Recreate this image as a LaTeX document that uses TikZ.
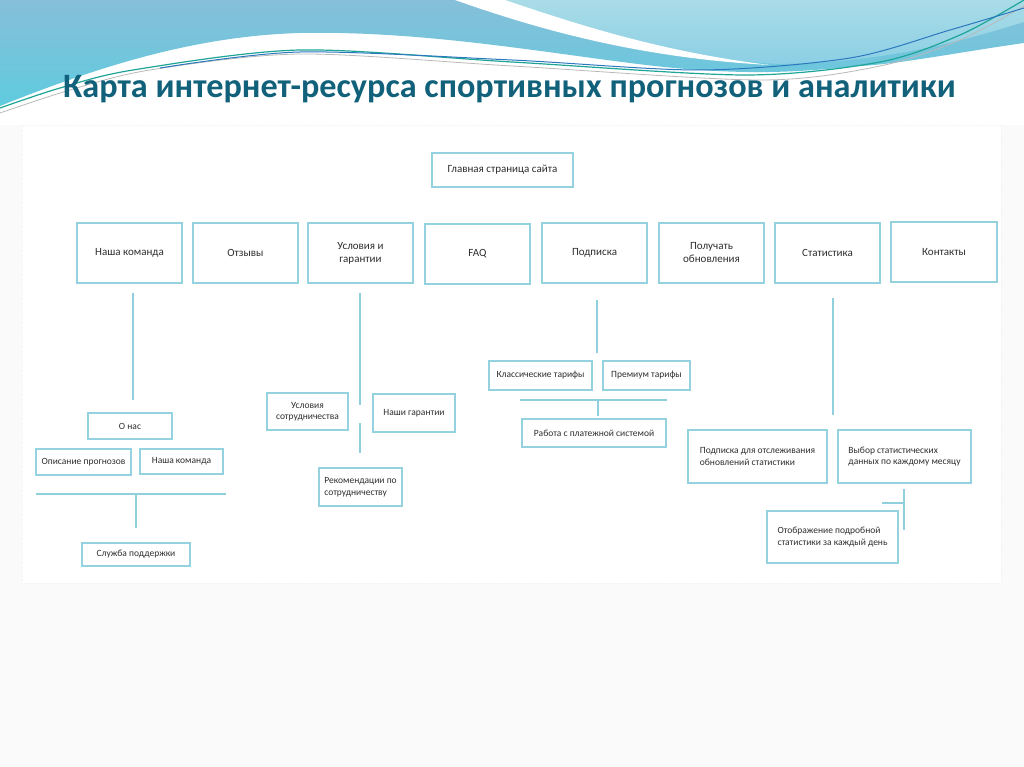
\documentclass[tikz,border=0pt]{standalone}
\usepackage{fontspec}
\setmainfont{Carlito}
\definecolor{boxc}{HTML}{93D2DE}
\definecolor{linec}{HTML}{8FD0DC}
\definecolor{titlec}{HTML}{12617B}
\definecolor{txt}{HTML}{2E2E2E}
\definecolor{pagebg}{HTML}{FAFAFA}
\definecolor{waveA}{HTML}{86BFD9}
\definecolor{waveB}{HTML}{5FCBDF}
\definecolor{waveL}{HTML}{A9DCE7}
\definecolor{waveL2}{HTML}{8CCFE5}
\definecolor{tealL}{HTML}{1FA597}
\definecolor{blueL}{HTML}{2C78BE}
\begin{document}
\begin{tikzpicture}[x=1pt,y=-1pt,
  box/.style={draw=boxc, line width=2.6pt, fill=white, inner sep=0pt, align=center, text=txt, font=\fontsize{11}{13}\selectfont},
  sbox/.style={box, font=\fontsize{9.5}{11.5}\selectfont},
  lbox/.style={sbox, align=left},
  conn/.style={draw=linec, line width=2.4pt}]
\useasboundingbox (0,0) rectangle (1024,767);
% page background
\fill[pagebg] (0,0) rectangle (1024,767);
\fill[white] (0,0) rectangle (1024,125);
\fill[white] (22,125) rectangle (1001,583);
\draw[gray!12, dotted] (22,125) rectangle (1001,583);
% waves
\shade[top color=waveA, bottom color=waveB] (0,0) -- (1024,0) -- (1024,43)
  .. controls (960,52) and (900,64) .. (860,66)
  .. controls (800,72) and (760,74) .. (700,70)
  .. controls (600,64) and (450,30) .. (300,33)
  .. controls (190,36) and (90,70) .. (0,106) -- cycle;
\shade[top color=waveL, bottom color=waveL2] (503,0) -- (1024,0) -- (1024,22)
  .. controls (950,45) and (880,62) .. (780,64)
  .. controls (680,60) and (570,25) .. (503,0) -- cycle;
\fill[white] (455,0) .. controls (540,30) and (640,58) .. (770,65)
  .. controls (660,52) and (570,22) .. (505,0) -- cycle;
\draw[gray!55, line width=0.8pt] plot[smooth] coordinates {(0,113) (70,90) (150,70) (300,54) (512,66) (760,80) (880,66) (960,40) (1024,6)};
\draw[tealL, line width=1.2pt] plot[smooth] coordinates {(0,108) (60,88) (133,70) (300,50) (512,62) (745,75) (880,62) (960,35) (1024,0)};
\draw[blueL, line width=1pt] plot[smooth] coordinates {(160,68) (300,52) (512,60) (700,70) (850,58) (950,30) (1024,8)};
% title
\node[anchor=base west, inner sep=0pt, text=titlec, font=\fontsize{34.2}{39}\selectfont\bfseries] (title) at (63,98) {Карта интернет-ресурса спортивных прогнозов и аналитики};
% main
\node[box, minimum width=141pt, minimum height=34pt] (main) at (502.5,170) {Главная страница сайта};
% row 2
\node[box, minimum width=105pt, minimum height=60pt] (nk) at (129.5,253) {Наша команда};
\node[box, minimum width=105pt, minimum height=60pt] (otz) at (245.5,253) {Отзывы};
\node[box, minimum width=105pt, minimum height=60pt] (usl) at (360.5,253) {Условия и\\гарантии};
\node[box, minimum width=105pt, minimum height=60pt] (faq) at (477.5,254) {FAQ};
\node[box, minimum width=105pt, minimum height=60pt] (pod) at (594.5,253) {Подписка};
\node[box, minimum width=105pt, minimum height=60pt] (polu) at (711.5,253) {Получать\\обновления};
\node[box, minimum width=105pt, minimum height=60pt] (stat) at (827.5,253) {Статистика};
\node[box, minimum width=106pt, minimum height=60pt] (kont) at (944,252) {Контакты};
% Наша команда branch
\node[sbox, minimum width=84pt, minimum height=26pt] (onas) at (130,426) {О нас};
\node[sbox, minimum width=95pt, minimum height=26pt] (opis) at (83.5,462) {Описание прогнозов};
\node[sbox, minimum width=83pt, minimum height=25pt] (nk2) at (181.5,461.5) {Наша команда};
\node[sbox, minimum width=108pt, minimum height=23pt] (sluzh) at (136,554.5) {Служба поддержки};
\coordinate (nkA) at (133,293);
\coordinate (nkB) at (133,400);
\draw[conn] (nkA) -- (nkB);
\coordinate (h1L) at (36,494);
\coordinate (h1R) at (226,494);
\coordinate (h1M) at (136,494);
\coordinate (h1D) at (136,528);
\draw[conn] (h1L) -- (h1R);
\draw[conn] (h1M) -- (h1D);
% Условия branch
\node[sbox, minimum width=81pt, minimum height=37pt] (uslsotr) at (307.5,411.5) {Условия\\сотрудничества};
\node[sbox, minimum width=82pt, minimum height=38pt] (nashgar) at (414,413) {Наши гарантии};
\node[lbox, minimum width=83pt, minimum height=38pt] (rekom) at (360.5,487) {Рекомендации по\\сотрудничеству};
\coordinate (uA) at (360,293);
\coordinate (uB) at (360,405);
\coordinate (uC) at (360,423);
\coordinate (uD) at (360,453);
\draw[conn] (uA) -- (uB);
\draw[conn] (uC) -- (uD);
% Подписка branch
\node[sbox, minimum width=103pt, minimum height=29pt] (klass) at (540.5,375.5) {Классические тарифы};
\node[sbox, minimum width=87pt, minimum height=29pt] (prem) at (646.5,375.5) {Премиум тарифы};
\node[sbox, minimum width=144pt, minimum height=28pt] (rabota) at (594,433) {Работа с платежной системой};
\coordinate (pA) at (597,300);
\coordinate (pB) at (597,353);
\draw[conn] (pA) -- (pB);
\coordinate (h2L) at (520,400);
\coordinate (h2R) at (667,400);
\coordinate (h2M) at (598,400);
\coordinate (h2D) at (598,416);
\draw[conn] (h2L) -- (h2R);
\draw[conn] (h2M) -- (h2D);
% Статистика branch
\node[lbox, minimum width=139pt, minimum height=53pt] (podotsl) at (757.5,456.5) {Подписка для отслеживания\\обновлений статистики};
\node[lbox, minimum width=133pt, minimum height=53pt] (vybor) at (904.5,456.5) {Выбор статистических\\данных по каждому месяцу};
\node[lbox, minimum width=131pt, minimum height=52pt] (otobr) at (832.5,537) {Отображение подробной\\статистики за каждый день};
\coordinate (sA) at (833,298);
\coordinate (sB) at (833,415);
\draw[conn] (sA) -- (sB);
\coordinate (vA) at (904,489);
\coordinate (vB) at (904,530);
\coordinate (vM) at (904,503);
\coordinate (vL) at (882,503);
\draw[conn] (vA) -- (vB);
\draw[conn] (vL) -- (vM);
\end{tikzpicture}
\end{document}
